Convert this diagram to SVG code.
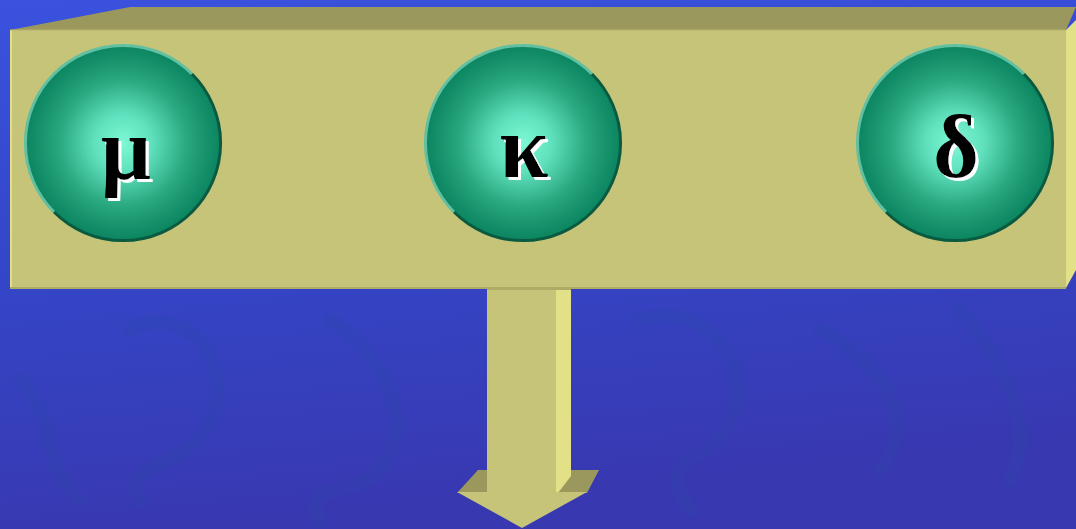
<svg xmlns="http://www.w3.org/2000/svg" width="1076" height="529" viewBox="0 0 1076 529">
<defs>
<linearGradient id="bg" x1="0" y1="0" x2="0.2" y2="1">
<stop offset="0" stop-color="#3a52de"/>
<stop offset="0.5" stop-color="#3446c8"/>
<stop offset="1" stop-color="#3838b0"/>
</linearGradient>
<radialGradient id="ball" cx="0.5" cy="0.5" r="0.5" fx="0.5" fy="0.5">
<stop offset="0" stop-color="#7ef8d6"/>
<stop offset="0.3" stop-color="#5fe0bc"/>
<stop offset="0.65" stop-color="#2aa880"/>
<stop offset="0.9" stop-color="#138e68"/>
<stop offset="1" stop-color="#0c8660"/>
</radialGradient>
<filter id="shadow" x="-20%" y="-20%" width="150%" height="150%">
<feOffset in="SourceAlpha" dx="3" dy="3" result="off"/>
<feFlood flood-color="#ffffff"/>
<feComposite in2="off" operator="in" result="white"/>
<feMerge><feMergeNode in="white"/><feMergeNode in="SourceGraphic"/></feMerge>
</filter>
<style>
.top{fill:#9b985d}
.front{fill:#c5c479}
.side{fill:#e3e188}
.rimL{fill:none;stroke:#62c0a2;stroke-width:3}
.rimD{fill:none;stroke:#0a5a40;stroke-width:3}
.lbl{font-family:"Liberation Serif","DejaVu Serif",serif;font-size:88px;font-weight:bold;text-anchor:middle;fill:#000000;filter:url(#shadow)}
.blob{fill:none;stroke:#2a48a8;stroke-width:14;opacity:0.25;stroke-linecap:round}
</style>
</defs>
<rect width="1076" height="529" fill="url(#bg)"/>
<g id="background-pattern">
<path class="blob" d="M130 330 C180 300 240 360 210 420 C190 470 120 460 140 500"/>
<path class="blob" d="M330 320 C380 350 420 420 380 470 C350 500 300 480 320 520"/>
<path class="blob" d="M640 320 C700 300 760 360 730 420 C710 470 650 450 690 510"/>
<path class="blob" d="M820 330 C880 360 920 420 880 470"/>
<path class="blob" d="M20 380 C60 420 40 470 80 500"/>
<path class="blob" d="M960 310 C1000 360 1040 420 1010 480"/>
</g>
<g id="bar">
<polygon class="top" points="10,30 130,7 1076,7 1066,30"/>
<rect class="front" x="10" y="30" width="1056" height="258"/>
<polygon class="side" points="1066,30 1076,20 1076,270 1066,288"/>
<line x1="11" y1="30" x2="11" y2="288" stroke="#e0de88" stroke-width="2"/>
<line x1="10" y1="288" x2="1066" y2="288" stroke="#aeab66" stroke-width="2"/>
<line x1="10" y1="30" x2="1066" y2="30" stroke="#b4b16c" stroke-width="1"/>
</g>
<g id="arrow">
<polygon class="top" points="478,470 488,470 488,493 457,493"/>
<polygon class="top" points="571,470 599,470 587,493 558,493"/>
<rect class="front" x="487" y="289" width="69" height="204"/>
<polygon class="side" points="556,289 571,289 571,476 558,493 556,493"/>
<polygon class="front" points="457,492 587,492 522,528"/>
<line x1="487" y1="289" x2="571" y2="289" stroke="#aeab66" stroke-width="2"/>
</g>
<g id="node-mu">
<circle cx="123" cy="143" r="97" fill="url(#ball)"/>
<path class="rimL" d="M54 212 A97 97 0 0 1 192 74"/>
<path class="rimD" d="M192 74 A97 97 0 0 1 54 212"/>
<text class="lbl" x="126" y="179">μ</text>
</g>
<g id="node-kappa">
<circle cx="523" cy="143" r="97" fill="url(#ball)"/>
<path class="rimL" d="M454 212 A97 97 0 0 1 592 74"/>
<path class="rimD" d="M592 74 A97 97 0 0 1 454 212"/>
<text class="lbl" x="524" y="177">κ</text>
</g>
<g id="node-delta">
<circle cx="955" cy="143" r="97" fill="url(#ball)"/>
<path class="rimL" d="M886 212 A97 97 0 0 1 1024 74"/>
<path class="rimD" d="M1024 74 A97 97 0 0 1 886 212"/>
<text class="lbl" x="956" y="177">δ</text>
</g>
<g id="connectors"></g>
</svg>
